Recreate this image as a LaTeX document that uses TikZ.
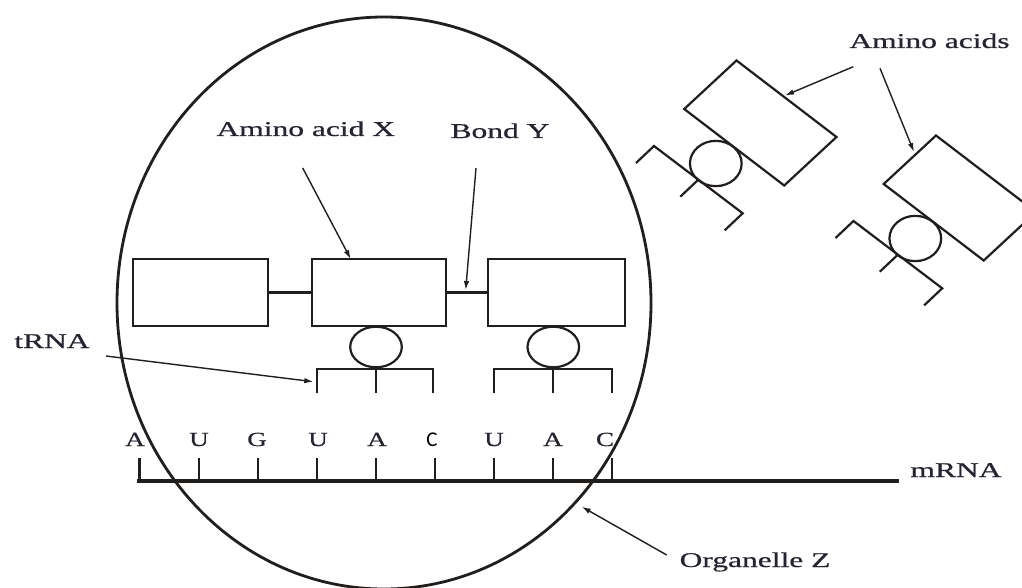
\documentclass[tikz,border=0pt]{standalone}
\usepackage{fontspec}
\setmainfont{Liberation Serif}
\newfontfamily\lblfont{Liberation Serif}[FakeBold=0.6]
\newfontfamily\sanscalib{Carlito}
\usetikzlibrary{arrows.meta,shapes.geometric}
\definecolor{ink}{RGB}{34,30,28}
\definecolor{txt}{RGB}{38,36,52}
\newcommand{\widetxt}[1]{\scalebox{1.5}[1]{#1}}
\newcommand{\basetxt}[1]{\scalebox{1.35}[1]{#1}}
\begin{document}
\begin{tikzpicture}[x=1pt,y=-1pt,
  thin line/.style={draw=ink, line width=2.2pt},
  aabox/.style={thin line, rectangle, inner sep=0pt, outer sep=0pt},
  knob/.style={thin line, ellipse, inner sep=0pt, outer sep=0pt},
  pointer/.style={draw=ink, line width=1.4pt, -{Latex[length=9pt,width=5.5pt]}},
  lbl/.style={text=txt, inner sep=0pt, anchor=base, font=\lblfont\fontsize{21}{25}\selectfont},
  basel/.style={text=txt, inner sep=0pt, anchor=base, font=\lblfont\fontsize{20}{24}\selectfont}]
\useasboundingbox (0,0) rectangle (1022,588);
\clip (0,0) rectangle (1022,588);
\fill[white] (0,0) rectangle (1022,588);

% organelle Z
\node[draw=ink, line width=2.8pt, ellipse, inner sep=0pt, outer sep=0pt,
      minimum width=534pt, minimum height=572pt] (org) at (384,303) {};

% peptide chain: three amino acids joined by bonds
\node[aabox, minimum width=135pt, minimum height=66.4pt] (b1) at (200.2,292.5) {};
\node[aabox, minimum width=134pt, minimum height=66.4pt] (b2) at (378.7,292.5) {};
\node[aabox, minimum width=137.3pt, minimum height=66.4pt] (b3) at (556.35,292.5) {};
\draw[thin line] (b1.east) -- (b2.west);
\draw[thin line] (b2.east) -- (b3.west);
\coordinate (bondY) at (465.7,290);

% tRNA molecules under amino acids 2 and 3
\node[knob, minimum width=51.6pt, minimum height=40.6pt] (k2) at (376,347) {};
\node[knob, minimum width=51.6pt, minimum height=40.6pt] (k3) at (553.3,347) {};
\draw[thin line] (316.7,393.3) -- (316.7,369.3) -- (433.3,369.3) -- (433.3,393.3);
\draw[thin line] (376,369.3) -- (376,393.3);
\draw[thin line] (494.3,393.3) -- (494.3,369.3) -- (612.3,369.3) -- (612.3,393.3);
\draw[thin line] (553.3,369.3) -- (553.3,393.3);
\coordinate (trnaTip) at (313.3,381.7);

% mRNA strand with codon ticks
\coordinate (mL) at (136.7,481);
\coordinate (mR) at (899,481);
\draw[draw=ink, line width=3.3pt] (mL) -- (mR);
\foreach \i in {0,...,8} {
  \draw[thin line] ({139.5+59.1*\i},458) -- ({139.5+59.1*\i},481);
}
\node[basel] (n1) at (135,446) {\basetxt{A}};
\node[basel] (n2) at (199,446) {\basetxt{U}};
\node[basel] (n3) at (257,446) {\basetxt{G}};
\node[basel] (n4) at (318,446) {\basetxt{U}};
\node[basel] (n5) at (377,446) {\basetxt{A}};
\node[inner sep=0pt, anchor=base, text=black, font=\sanscalib\fontsize{21}{25}\selectfont] (n6) at (432,446) {C};
\node[basel] (n7) at (494,446) {\basetxt{U}};
\node[basel] (n8) at (553,446) {\basetxt{A}};
\node[basel] (n9) at (605,446) {\basetxt{C}};

% free amino acids carried by tRNA
\foreach \dx/\dy/\nm in {0/0/fa, 199.5/75/fb} {
  \begin{scope}[shift={(\dx,\dy)}]
    \draw[thin line] (736.5,60.5) -- ++(100,76.5) -- ++(-52.3,48.5) -- ++(-100,-76.5) -- cycle;
    \node[knob, minimum width=51.7pt, minimum height=45.3pt] (\nm k) at (715.8,163.5) {};
    \draw[thin line] (636,163) -- (654,146) -- (742.7,213.3) -- (724.7,230.3);
    \draw[thin line] (698.35,179.65) -- (680.35,196.65);
  \end{scope}
}
\coordinate (faTip) at (785,95.5);
\coordinate (fbTip) at (914,152);

% labels
\node[lbl] (lx) at (305.8,136) {\widetxt{Amino acid X}};
\node[lbl] (ly) at (500,138) {\widetxt{Bond Y}};
\node[lbl] (lt) at (52,348) {\widetxt{tRNA}};
\node[lbl] (la) at (929.5,48) {\widetxt{Amino acids}};
\node[lbl] (lm) at (956,477) {\widetxt{mRNA}};
\node[lbl] (lz) at (755,567) {\widetxt{Organelle Z}};

% pointers
\coordinate (xS) at (302.7,168);
\coordinate (xT) at (350.7,259);
\coordinate (yS) at (476,168);
\coordinate (tS) at (106,356);
\coordinate (zS) at (666.7,555);
\coordinate (zT) at (581.7,506.7);
\coordinate (aS1) at (853.3,66.7);
\coordinate (aS2) at (880,68.3);
\draw[pointer] (xS) -- (xT);
\draw[pointer] (yS) -- (bondY);
\draw[pointer] (tS) -- (trnaTip);
\draw[pointer] (zS) -- (zT);
\draw[pointer] (aS1) -- (faTip);
\draw[pointer] (aS2) -- (fbTip);
\end{tikzpicture}
\end{document}
